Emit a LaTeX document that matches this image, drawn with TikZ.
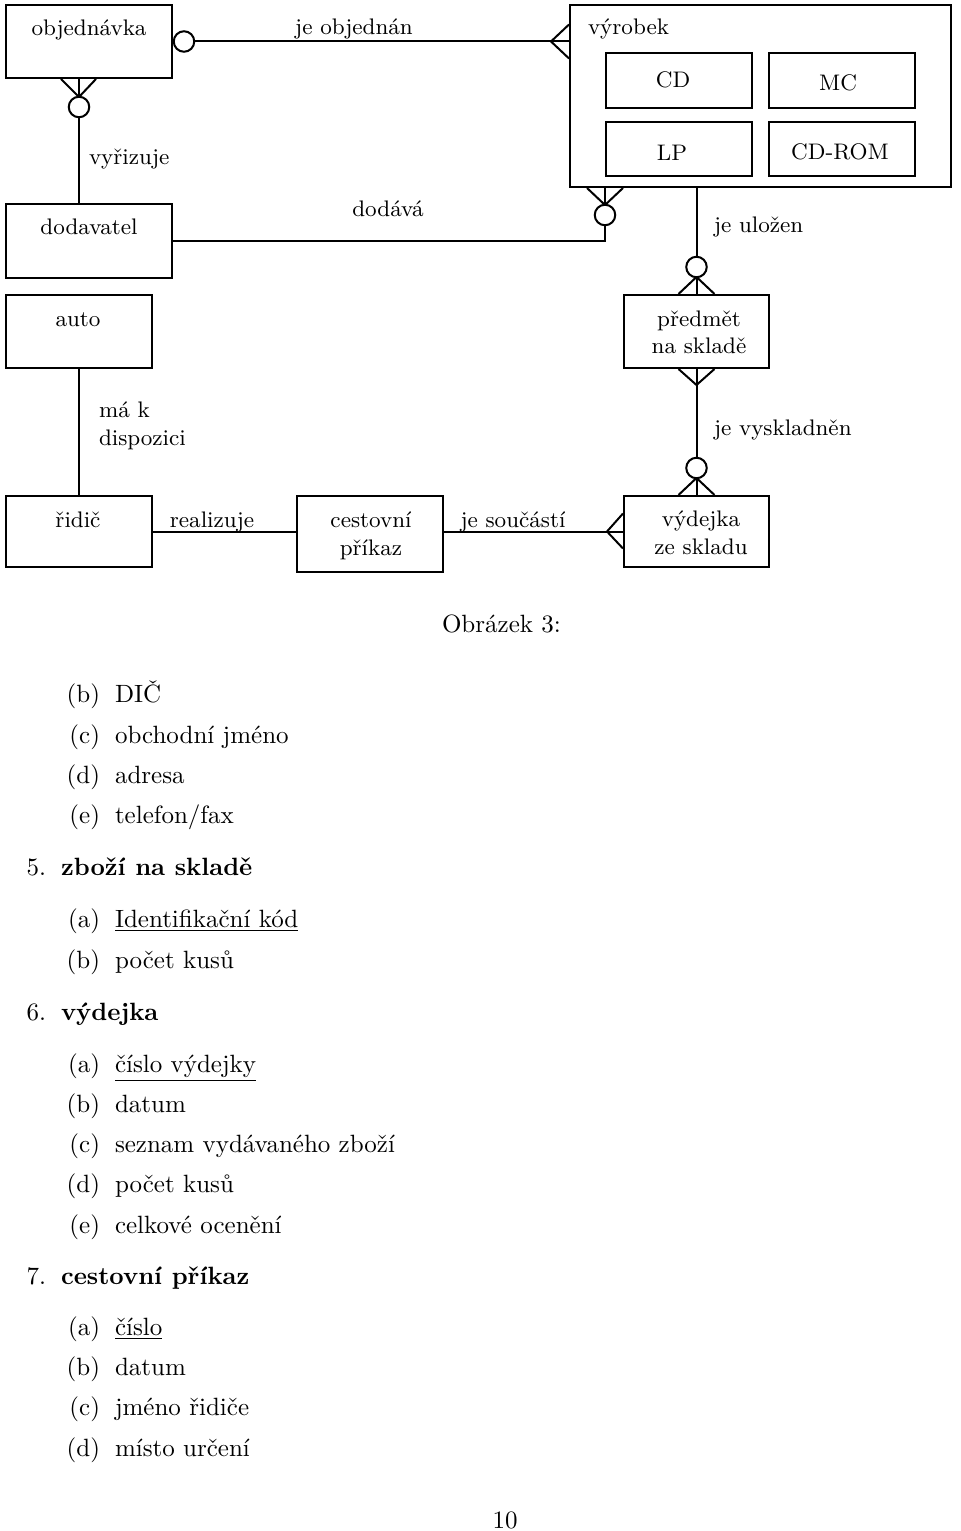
\documentclass[tikz,border=0pt]{standalone}
\usepackage{fontspec}
\usetikzlibrary{calc,fit}

\begin{document}
\begin{tikzpicture}[x=0.4pt,y=-0.4pt,line width=0.8pt,
  entity/.style={draw,inner sep=0pt},
  erfont/.style={font=\fontsize{9}{11}\selectfont,inner sep=0pt},
  ocirc/.style={circle,draw,fill=white,inner sep=0pt,minimum size=8.2pt},
  item/.style={inner sep=0pt,anchor=base west},
  ilabel/.style={inner sep=0pt,anchor=base east}]
  \useasboundingbox (0,0) rectangle (960,1531);

  %# ENTITY
  \node[entity,fit={(6,5) (172,78)}] (obj) {};
  \node[entity,fit={(6,204) (172,278)}] (dod) {};
  \node[entity,fit={(570,5) (951,187)}] (vyr) {};
  \node[entity,fit={(606,53) (752,108)}] (cd) {};
  \node[entity,fit={(769,53) (915,108)}] (mc) {};
  \node[entity,fit={(606,122) (752,176)}] (lp) {};
  \node[entity,fit={(769,122) (915,176)}] (cdrom) {};
  \node[entity,fit={(6,295) (152,368)}] (auto) {};
  \node[entity,fit={(6,496) (152,567)}] (ridic) {};
  \node[entity,fit={(297,496) (443,572)}] (prikaz) {};
  \node[entity,fit={(624,295) (769,368)}] (predmet) {};
  \node[entity,fit={(624,496) (769,567)}] (vydejka) {};

  %# NAZVY ENTIT
  \node[erfont,anchor=base] (tobj) at (89,36) {objednávka};
  \node[erfont,anchor=base] (tdod) at (89,235) {dodavatel};
  \node[erfont,anchor=base west] (tvyr) at (587,35) {výrobek};
  \node[erfont,anchor=base] (tcd) at (673,88) {CD};
  \node[erfont,anchor=base] (tmc) at (838,91) {MC};
  \node[erfont,anchor=base] (tlp) at (672,161) {LP};
  \node[erfont,anchor=base] (tcdrom) at (840,160) {CD-ROM};
  \node[erfont,anchor=base] (tauto) at (78,327) {auto};
  \node[erfont,anchor=base] (tridic) at (78,527) {řidič};
  \node[erfont,anchor=base,align=center] (tprikaz) at (371,555) {cestovní\\příkaz};
  \node[erfont,anchor=base,align=center] (tpredmet) at (699,354) {předmět\\na skladě};
  \node[erfont,anchor=base,align=center] (tvydejka) at (701,554) {výdejka\\ze skladu};

  %# VZTAHY
  \coordinate (p1) at (vyr.west |- obj.east);
  \draw (obj.east) -- (p1);
  \draw ($(p1)+(0,-17)$) -- ($(p1)+(-18,0)$) -- ($(p1)+(0,17)$);

  \coordinate (a2) at ($(obj.south -| auto.south)+(0,18)$);
  \draw (obj.south -| auto.south) -- (dod.north -| auto.south);
  \draw ($(obj.south -| auto.south)+(-18,0)$) -- (a2) -- ($(obj.south -| auto.south)+(17,0)$);

  \coordinate (p3) at (cd.west |- vyr.south);
  \draw (dod.east) -- (cd.west |- dod.east) -- (p3);
  \draw ($(p3)+(-18,0)$) -- ($(p3)+(0,17)$) -- ($(p3)+(18,0)$);

  \draw (predmet.north |- vyr.south) -- (predmet.north);
  \draw ($(predmet.north)+(-18,0)$) -- ($(predmet.north)+(0,-17)$) -- ($(predmet.north)+(18,0)$);

  \draw (predmet.south) -- (vydejka.north);
  \draw ($(predmet.south)+(-18,0)$) -- ($(predmet.south)+(0,16)$) -- ($(predmet.south)+(18,0)$);
  \draw ($(vydejka.north)+(-18,0)$) -- ($(vydejka.north)+(0,-17)$) -- ($(vydejka.north)+(18,0)$);

  \draw (auto.south) -- (ridic.north);
  \draw (ridic.east) -- (prikaz.west |- ridic.east);

  \draw (prikaz.east |- vydejka.west) -- (vydejka.west);
  \draw ($(vydejka.west)+(0,-18)$) -- ($(vydejka.west)+(-16,0)$) -- ($(vydejka.west)+(0,17)$);

  %# KROUZKY
  \node[ocirc] (o1) at ($(obj.east)+(11,0)$) {};
  \node[ocirc] (o2) at ($(a2)+(0,10)$) {};
  \node[ocirc] (o3) at ($(p3)+(0,27)$) {};
  \node[ocirc] (o4) at ($(predmet.north)+(0,-27)$) {};
  \node[ocirc] (o5) at ($(vydejka.north)+(0,-27)$) {};

  %# POPISY VZTAHU
  \node[erfont,anchor=base] (r1) at (354,35) {je objednán};
  \node[erfont,anchor=base west] (r2) at (88,165) {vyřizuje};
  \node[erfont,anchor=base] (r3) at (388,217) {dodává};
  \node[erfont,anchor=base west] (r4) at (713,233) {je uložen};
  \node[erfont,anchor=base west,align=left] (r5) at (98,445) {má k\\dispozici};
  \node[erfont,anchor=base west] (r6) at (713,435) {je vyskladněn};
  \node[erfont,anchor=base] (r7) at (212,527) {realizuje};
  \node[erfont,anchor=base] (r8) at (513,527) {je součástí};

  %# SEZNAM
  \node[item] (cap) at (441,632) {Obrázek 3:};
  \foreach \y/\l/\t [count=\i] in {702/b/DIČ,743/c/obchodní jméno,783/d/adresa,823/e/{telefon/fax}} {
    \node[ilabel] (l4\i) at (101,\y) {(\l)};
    \node[item] (t4\i) at (114,\y) {\t};
  }
  \node[ilabel] (n5) at (47,875) {5.};
  \node[item] (h5) at (60,875) {\textbf{zboží na skladě}};
  \foreach \y/\l/\t [count=\i] in {927/a/\underline{Identifikační kód},968/b/počet kusů} {
    \node[ilabel] (l5\i) at (101,\y) {(\l)};
    \node[item] (t5\i) at (114,\y) {\t};
  }
  \node[ilabel] (n6) at (47,1020) {6.};
  \node[item] (h6) at (60,1020) {\textbf{výdejka}};
  \foreach \y/\l/\t [count=\i] in {1072/a/\underline{číslo výdejky},1112/b/datum,1152/c/seznam vydávaného zboží,1192/d/počet kusů,1233/e/celkové ocenění} {
    \node[ilabel] (l6\i) at (101,\y) {(\l)};
    \node[item] (t6\i) at (114,\y) {\t};
  }
  \node[ilabel] (n7) at (47,1284) {7.};
  \node[item] (h7) at (60,1284) {\textbf{cestovní příkaz}};
  \foreach \y/\l/\t [count=\i] in {1335/a/\underline{číslo},1375/b/datum,1415/c/jméno řidiče,1456/d/místo určení} {
    \node[ilabel] (l7\i) at (101,\y) {(\l)};
    \node[item] (t7\i) at (114,\y) {\t};
  }
  \node[inner sep=0pt,anchor=base] (page) at (505,1528) {10};
\end{tikzpicture}
\end{document}
